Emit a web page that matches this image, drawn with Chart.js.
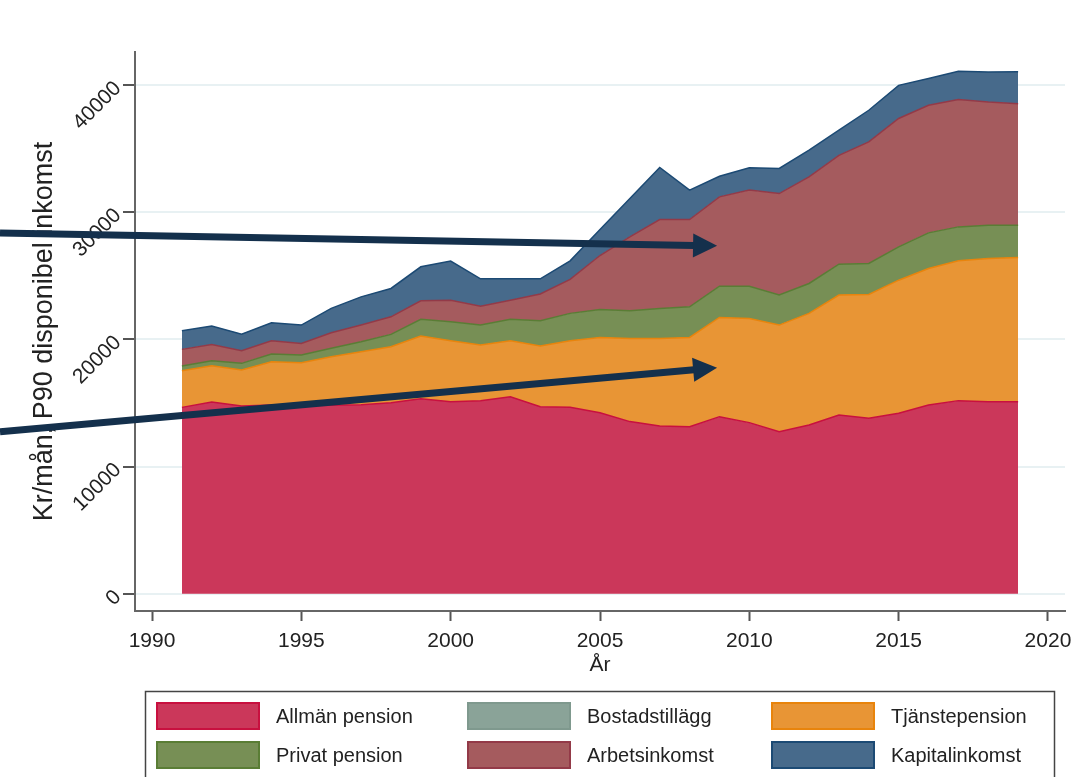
<!DOCTYPE html>
<html lang="sv">
<head>
<meta charset="UTF-8">
<title>P90 disponibel inkomst</title>
<script src="https://cdn.jsdelivr.net/npm/chart.js"></script>
<style>
  body { margin: 0; background: #fff; }
  #wrap { width: 1073px; height: 777px; }
</style>
</head>
<body>
<div id="wrap"><canvas id="graf" width="1073" height="777"></canvas></div>
<script>
// data (kr/mån)
const years = [1991, 1992, 1993, 1994, 1995, 1996, 1997, 1998, 1999, 2000,
               2001, 2002, 2003, 2004, 2005, 2006, 2007, 2008, 2009, 2010,
               2011, 2012, 2013, 2014, 2015, 2016, 2017, 2018, 2019];
const allmanPension = [14660, 15080, 14770, 14850, 14800, 14820, 14870, 15030, 15340, 15110,
                       15190, 15500, 14710, 14660, 14240, 13540, 13200, 13140, 13930, 13460,
                       12750, 13270, 14060, 13800, 14190, 14850, 15190, 15110, 15110];
const bostadstillagg = [0, 0, 0, 0, 0, 0, 0, 0, 0, 0,
                        0, 0, 0, 0, 0, 0, 0, 0, 0, 0,
                        0, 0, 0, 0, 0, 0, 0, 0, 0];
const tjanstepension = [2880, 2850, 2830, 3400, 3370, 3820, 4160, 4400, 4930, 4790,
                        4370, 4400, 4770, 5240, 5920, 6540, 6880, 7020, 7800, 8190,
                        8380, 8780, 9430, 9740, 10470, 10730, 10990, 11260, 11340];
const privatPension = [370, 400, 520, 600, 600, 660, 790, 970, 1310, 1490,
                       1570, 1680, 1990, 2150, 2200, 2170, 2360, 2410, 2460, 2540,
                       2360, 2350, 2430, 2430, 2620, 2800, 2670, 2610, 2530];
const arbetsinkomst = [1310, 1280, 990, 1050, 920, 1230, 1310, 1380, 1460, 1700,
                       1490, 1510, 2100, 2670, 4240, 5820, 6990, 6860, 7020, 7550,
                       7980, 8380, 8560, 9560, 10090, 10030, 10010, 9690, 9560];
const kapitalinkomst = [1460, 1440, 1310, 1410, 1440, 1910, 2220, 2230, 2670, 3070,
                        2150, 1680, 1200, 1460, 2050, 3010, 4090, 2310, 1620, 1750,
                        1970, 2100, 1970, 2490, 2610, 2100, 2220, 2360, 2510];
const xTicks = [1990, 1995, 2000, 2005, 2010, 2015, 2020];
const yTicks = [0, 10000, 20000, 30000, 40000];

// pilar i datakoordinater: [år, kr] start -> spets
const pilar = [
  [[1984.91, 28360], [2008.92, 27360]],
  [[1984.91, 12750], [2008.92, 17780]]
];

const serier = [
  { namn: 'Allmän pension', data: allmanPension, fyll: '#cb375a', kant: '#c8103f' },
  { namn: 'Bostadstillägg', data: bostadstillagg, fyll: '#8aa398', kant: '#7f998e' },
  { namn: 'Tjänstepension', data: tjanstepension, fyll: '#e89535', kant: '#e8840c' },
  { namn: 'Privat pension', data: privatPension, fyll: '#778f55', kant: '#5a7d35' },
  { namn: 'Arbetsinkomst', data: arbetsinkomst, fyll: '#a55b5e', kant: '#933a48' },
  { namn: 'Kapitalinkomst', data: kapitalinkomst, fyll: '#476a8b', kant: '#1c4a74' }
];

Chart.defaults.font.family = "'Liberation Sans', Arial, sans-serif";
Chart.defaults.color = '#222';

const datasets = serier.map((s, i) => ({
  label: s.namn,
  data: years.map((y, j) => ({ x: y, y: s.data[j] })),
  backgroundColor: s.fyll,
  borderColor: s.kant,
  borderWidth: i === 1 ? 0 : 1.5,
  pointRadius: 0,
  tension: 0,
  fill: i === 0 ? 'origin' : '-1'
}));

const pilPlugin = {
  id: 'pilar',
  afterDraw(chart) {
    const ctx = chart.ctx, xs = chart.scales.x, ys = chart.scales.y;
    ctx.save();
    ctx.fillStyle = '#14304c';
    ctx.strokeStyle = '#14304c';
    pilar.forEach(p => {
      const x0 = xs.getPixelForValue(p[0][0]), y0 = ys.getPixelForValue(p[0][1]);
      const x1 = xs.getPixelForValue(p[1][0]), y1 = ys.getPixelForValue(p[1][1]);
      const ang = Math.atan2(y1 - y0, x1 - x0);
      const huvud = 24, bredd = 12;
      const bx = x1 - huvud * Math.cos(ang), by = y1 - huvud * Math.sin(ang);
      ctx.lineWidth = 7;
      ctx.beginPath();
      ctx.moveTo(x0, y0);
      ctx.lineTo(bx + 1, by);
      ctx.stroke();
      ctx.beginPath();
      ctx.moveTo(x1, y1);
      ctx.lineTo(bx + bredd * Math.sin(ang), by - bredd * Math.cos(ang));
      ctx.lineTo(bx - bredd * Math.sin(ang), by + bredd * Math.cos(ang));
      ctx.closePath();
      ctx.fill();
    });
    ctx.restore();
  }
};

const legendPlugin = {
  id: 'legendruta',
  afterDraw(chart) {
    const ctx = chart.ctx;
    ctx.save();
    ctx.strokeStyle = '#444';
    ctx.lineWidth = 1.5;
    ctx.strokeRect(145.5, 691.5, 909, 100);
    const kolX = [156, 467, 771], radY = [702, 741];
    ctx.font = "20px 'Liberation Sans', Arial, sans-serif";
    ctx.textBaseline = 'middle';
    ctx.textAlign = 'left';
    chart.data.datasets.forEach((ds, i) => {
      const x = kolX[i % 3], y = radY[Math.floor(i / 3)];
      ctx.fillStyle = ds.backgroundColor;
      ctx.fillRect(x, y, 104, 28);
      ctx.strokeStyle = ds.borderColor;
      ctx.lineWidth = 2;
      ctx.strokeRect(x + 1, y + 1, 102, 26);
      ctx.fillStyle = '#222';
      ctx.fillText(ds.label, x + 120, y + 15);
    });
    ctx.restore();
  }
};

new Chart(document.getElementById('graf'), {
  type: 'line',
  data: { datasets },
  options: {
    responsive: false,
    animation: false,
    layout: { padding: { left: 0, top: 52, right: 8, bottom: 99.4 } },
    plugins: { legend: { display: false }, tooltip: { enabled: false } },
    scales: {
      x: {
        type: 'linear',
        min: 1989.43,
        max: 2020.57,
        afterBuildTicks: s => { s.ticks = xTicks.map(v => ({ value: v })); },
        afterFit: s => { s.height = 66.6; s.paddingLeft = 0; s.paddingRight = 0; },
        grid: { drawOnChartArea: false, drawTicks: true, tickLength: 10, tickWidth: 2, tickColor: '#555' },
        border: { color: '#666', width: 2 },
        ticks: { padding: 8, font: { size: 21 }, maxRotation: 0, callback: v => String(v) },
        title: { display: true, text: 'År', font: { size: 21 }, padding: { top: 0, bottom: 0 } }
      },
      y: {
        stacked: true,
        min: -1350,
        max: 42600,
        afterBuildTicks: s => { s.ticks = yTicks.map(v => ({ value: v })); },
        afterFit: s => { s.width = 135; s.paddingTop = 0; s.paddingBottom = 0; },
        grid: { color: '#e8f1f3', lineWidth: 2, tickLength: 12, tickWidth: 2, tickColor: '#555' },
        border: { color: '#666', width: 2 },
        ticks: { padding: 5, font: { size: 21 }, minRotation: 45, maxRotation: 45, callback: v => String(v) },
        title: { display: true, text: 'Kr/mån, P90 disponibel inkomst', font: { size: 27 }, padding: { top: 28, bottom: 0 } }
      }
    }
  },
  plugins: [pilPlugin, legendPlugin]
});
</script>
</body>
</html>
